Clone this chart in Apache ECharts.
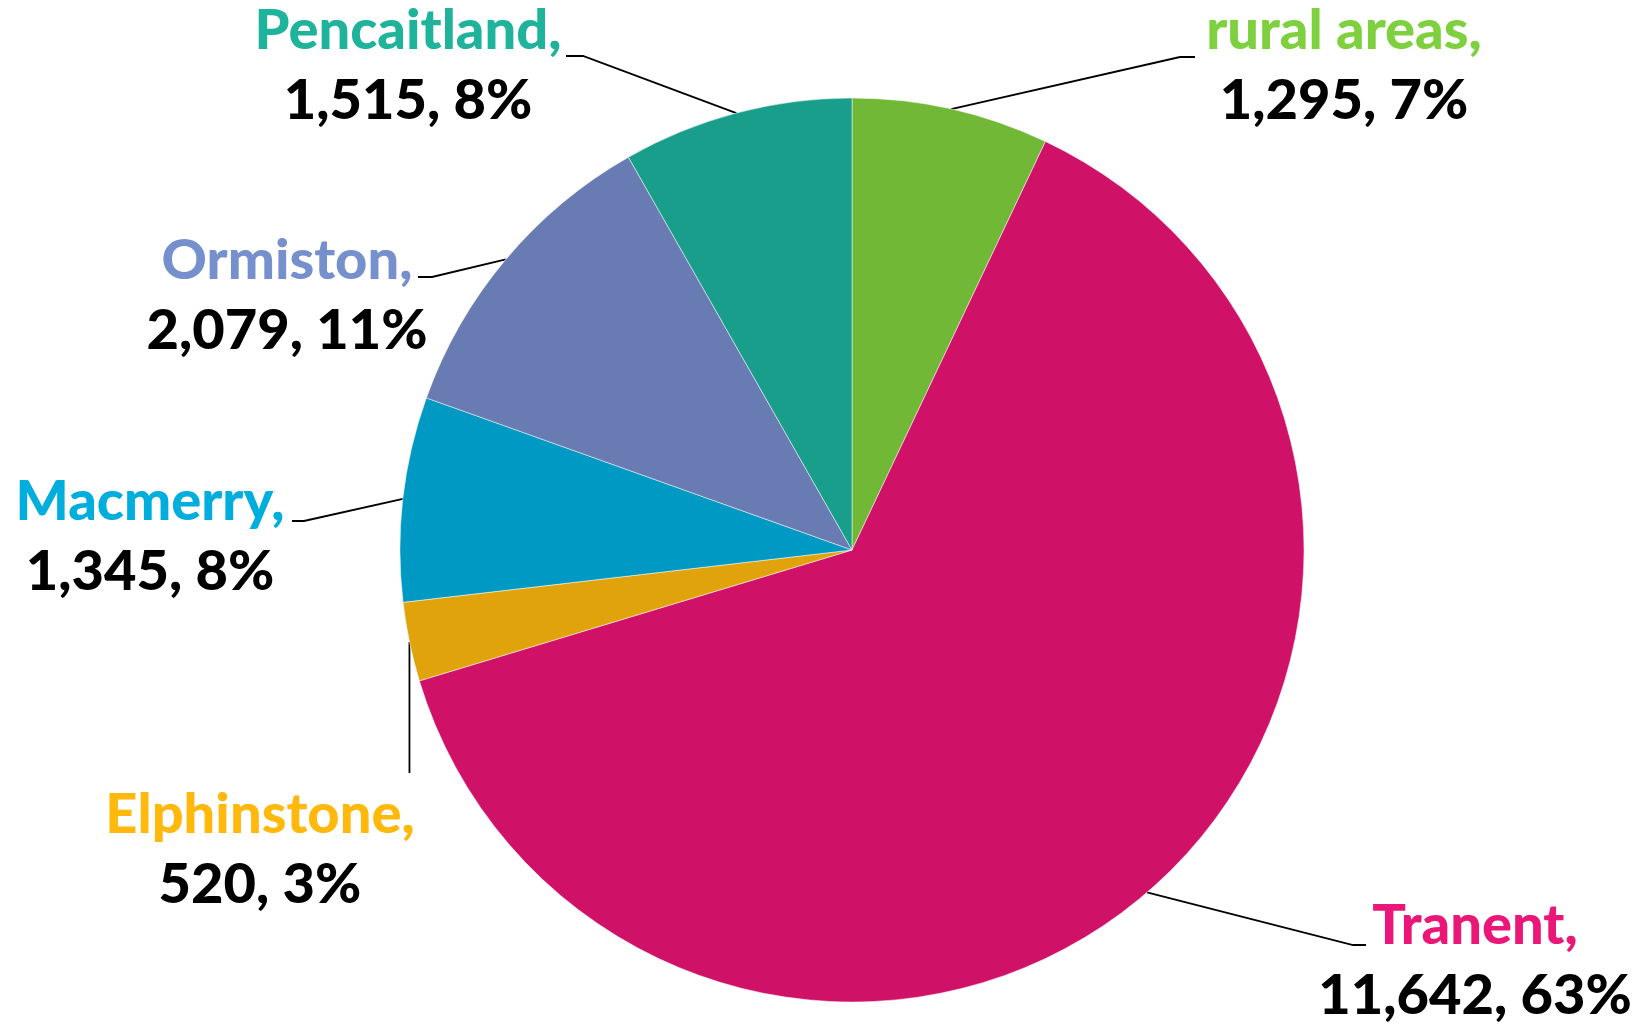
<!DOCTYPE html>
<html>
<head>
<meta charset="utf-8">
<script src="https://cdn.jsdelivr.net/npm/echarts@6/dist/echarts.min.js"></script>
<style>
html,body{margin:0;padding:0;background:#fff;}
#chart{width:1646px;height:1029px;}
</style>
</head>
<body>
<div id="chart"></div>
<script>
// ---- data ----
const categories = ['rural areas', 'Tranent', 'Elphinstone', 'Macmerry', 'Ormiston', 'Pencaitland'];
const values = [1295, 11642, 520, 1345, 2079, 1515];

// ---- styles ----
const sliceColors = ['#70B836', '#CF1168', '#E0A30B', '#0099C4', '#687BB2', '#189E8A'];
const nameColors  = ['#7ED03F', '#EA1779', '#FFB80C', '#00AEDD', '#7590CC', '#20B39C'];
// label placement: centre of label block, bend and end of leader line
const labelPlace = [
  { x: 1344, y: 66,  bend: [1180, 57],  end: [1195, 57] },
  { x: 1475, y: 961, bend: [1353, 945], end: [1366, 945] },
  { x: 260,  y: 850, bend: null,        end: null },
  { x: 150,  y: 537, bend: [304, 521],  end: [292, 521] },
  { x: 287,  y: 296, bend: [432, 277],  end: [418, 277] },
  { x: 408,  y: 66,  bend: [583, 56],   end: [566, 56] }
];

const chart = echarts.init(document.getElementById('chart'));
const FONT = 'Lato';
const FW = 900;
const FS = 56;
const rich = { v: { color: '#000', fontFamily: FONT, fontWeight: FW, fontSize: FS, lineHeight: 70 } };
nameColors.forEach((c, i) => {
  rich['n' + i] = { color: c, fontFamily: FONT, fontWeight: FW, fontSize: FS, lineHeight: 70 };
});

chart.setOption({
  backgroundColor: '#fff',
  animation: false,
  series: [{
    type: 'pie',
    center: [852, 550],
    radius: 452,
    startAngle: 90,
    clockwise: true,
    percentPrecision: 0,
    avoidLabelOverlap: false,
    data: categories.map((n, i) => ({ name: n, value: values[i], itemStyle: { color: sliceColors[i] } })),
    itemStyle: { borderColor: '#fff', borderWidth: 0.5 },
    label: {
      show: true,
      position: 'outside',
      align: 'center',
      formatter: p => '{n' + p.dataIndex + '|' + p.name + ',}\n{v|' + p.value.toLocaleString('en-US') + ', ' + p.percent + '%}',
      rich: rich
    },
    labelLine: { show: true, length: 20, length2: 20, lineStyle: { color: '#000', width: 1.8 } },
    emphasis: { disabled: true },
    labelLayout: function (params) {
      const lp = labelPlace[params.dataIndex];
      const start = params.labelLinePoints ? params.labelLinePoints[0] : null;
      const out = { x: lp.x, y: lp.y, align: 'center', verticalAlign: 'middle' };
      if (start) {
        if (lp.bend) {
          out.labelLinePoints = [start, lp.bend, lp.end];
        } else {
          out.labelLinePoints = [start, [start[0], 760], [start[0], 773]];
        }
      }
      return out;
    }
  }]
});
</script>
</body>
</html>
